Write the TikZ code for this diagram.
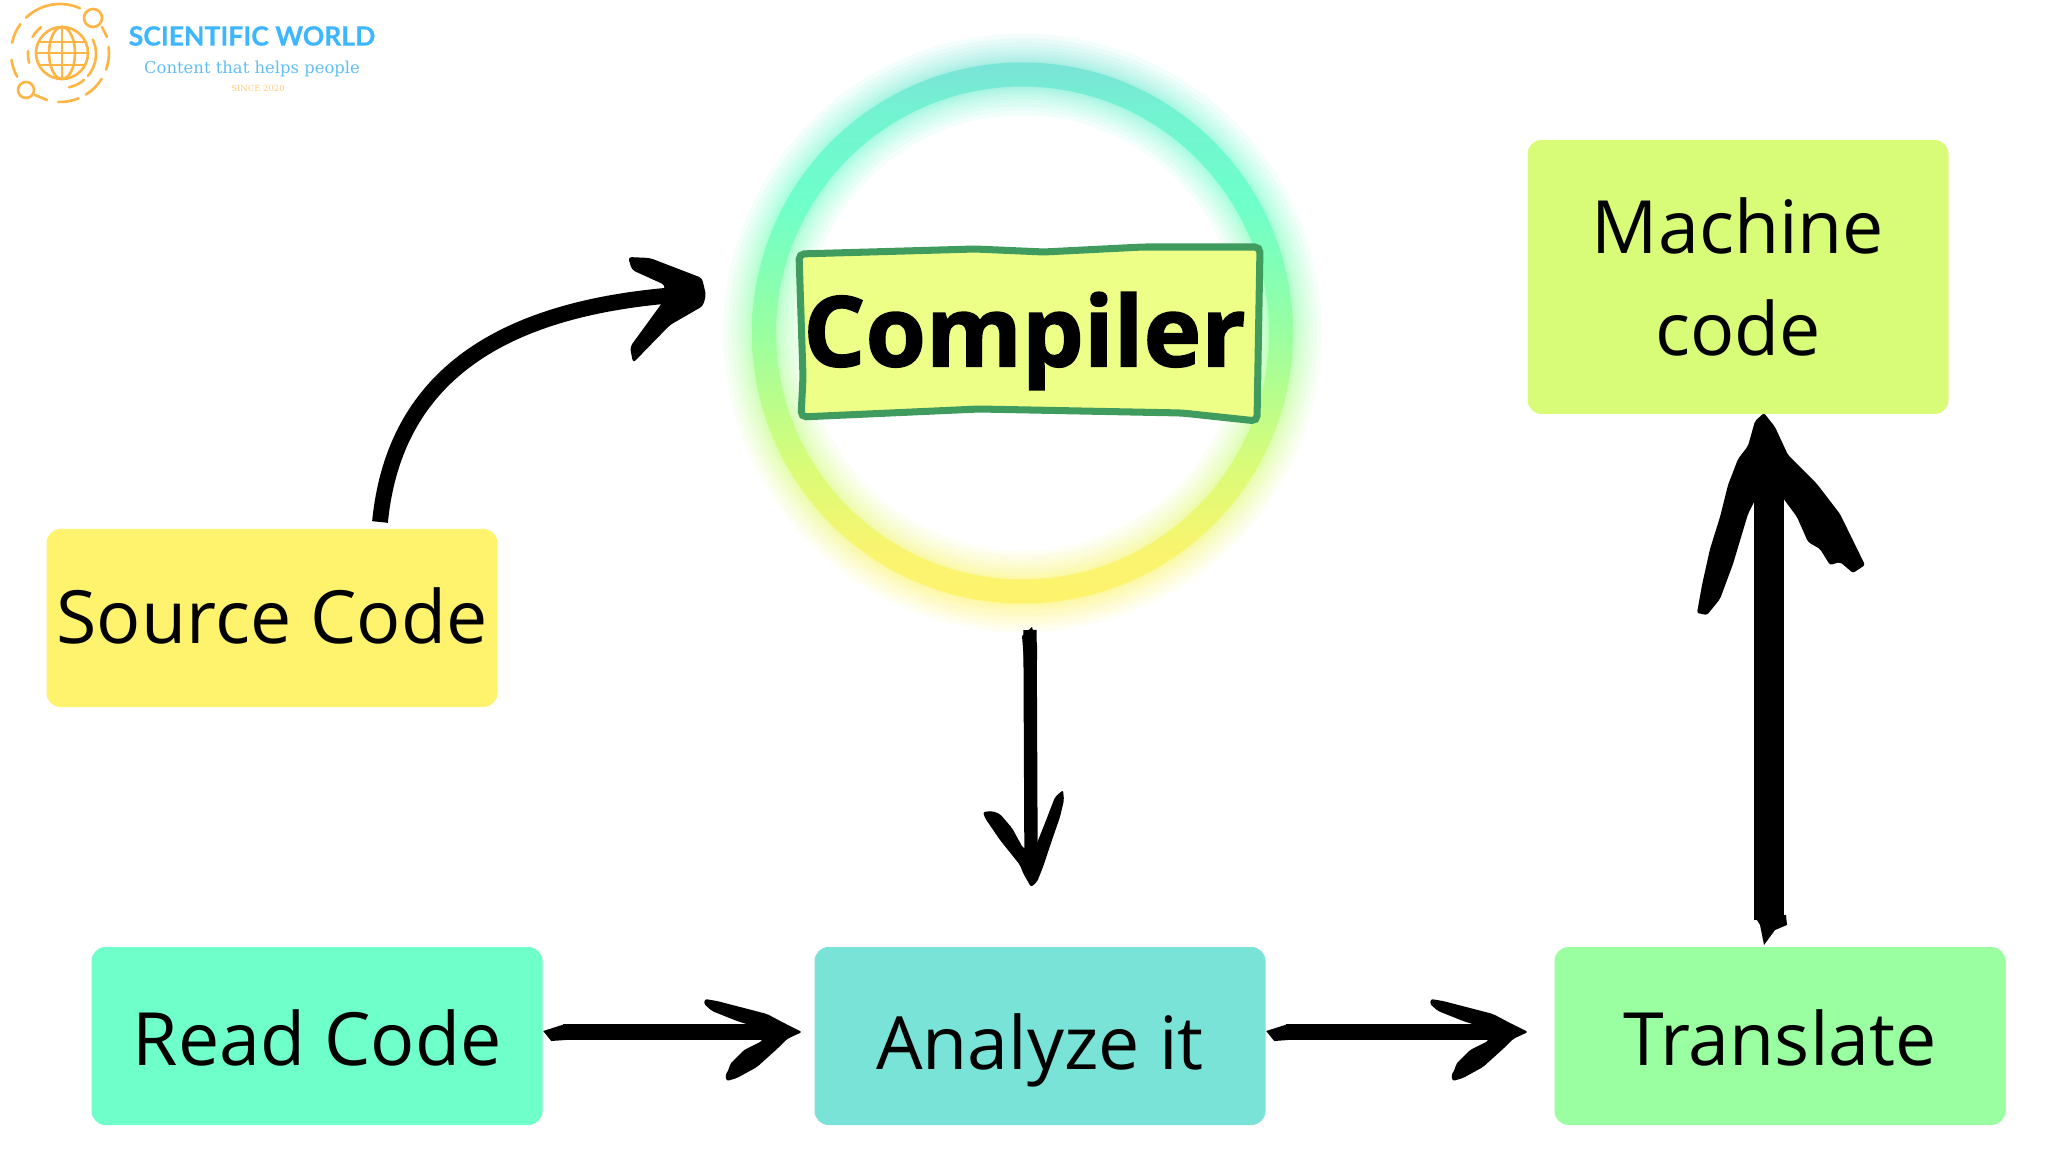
\documentclass[tikz,border=0pt]{standalone}
\usepackage{fontspec}
\usepackage{xcolor}
\usepackage{tikz}
\setmainfont{Open Sans}
\newfontfamily\logofont[BoldFeatures={FakeBold=0.4}]{Lato}
\newfontfamily\slabfont{DejaVu Serif}
\newfontfamily\heavyfont[BoldFeatures={FakeBold=1.5}]{Open Sans}

\definecolor{sourceyellow}{HTML}{FFF36D}
\definecolor{readmint}{HTML}{6EFFCB}
\definecolor{analyzeteal}{HTML}{7AE3D8}
\definecolor{translategreen}{HTML}{99FFA0}
\definecolor{machinelime}{HTML}{D8FC78}
\definecolor{compilerfill}{HTML}{EEFF88}
\definecolor{compileredge}{HTML}{3F9C5E}
\definecolor{logoblue}{HTML}{3DB6FF}
\definecolor{logosky}{HTML}{62BEF5}
\definecolor{logoorange}{HTML}{FFB545}

\pgfdeclareverticalshading{ringpaint}{100bp}{
  color(0bp)=(sourceyellow); color(25bp)=(sourceyellow); color(30bp)=(sourceyellow!85!machinelime);
  color(38bp)=(machinelime); color(50bp)=(translategreen); color(62bp)=(readmint);
  color(70bp)=(readmint!60!analyzeteal); color(75bp)=(analyzeteal); color(100bp)=(analyzeteal)}

\tikzset{
  codebox/.style={rounded corners=4pt,minimum width=451*0.01cm,minimum height=178*0.01cm,
    inner sep=0pt,font=\fontsize{20.9}{29}\selectfont},
  boxline/.style={text height=#1,text depth=2pt},
  brush/.style={line width=4.5pt,black},
  logoline/.style={logoorange,line width=0.75pt,line cap=round},
  brushtip/.pic={
    \fill[black,rounded corners=0.6pt] (0,0) -- (-18,-9) -- (-35,-18) -- (-58,-24) -- (-85,-31) -- (-97,-33) -- (-98,-28) -- (-90,-21)
      -- (-65,-11) -- (-40,-3) -- (-40,9) -- (-58,18) -- (-72,32) -- (-73,37) -- (-77,44) -- (-75,49)
      -- (-65,46) -- (-45,35) -- (-25,17) -- (-15,7) -- cycle;
  },
  brushtail/.pic={
    \fill[black] (0,-1) -- (22,-8) -- (22,8) -- (8,9) -- cycle;
  }
}

\begin{document}
\begin{tikzpicture}[x=0.01cm,y=-0.01cm]
        \useasboundingbox (0,0) rectangle (2048,1152);
        % Logo
        \draw[logoline] (62,53) circle (26);
        \draw[logoline] (62,53) ellipse (13 and 26);
        \draw[logoline] (62,27) -- (62,79);
        \draw[logoline] (36,53) -- (88,53);
        \draw[logoline] (40,42) -- (84,42);
        \draw[logoline] (40,65) -- (84,65);
        \foreach \a/\b in {226/294,-7/20,32/58,68/92,151/172,192/216} {
          \draw[logoline] (60,53) ++(\a:49) arc (\a:\b:49);
        }
        \foreach \a/\b in {210/232,165/185,-25/40,50/78} {
          \draw[logoline] (62,54) ++(\a:34) arc (\a:\b:34);
        }
        \draw[logoline] (93,18) circle (9);
        \draw[logoline] (102,27) -- (107,37);
        \draw[logoline] (26,90) circle (8);
        \draw[logoline] (35,95) -- (47,100);
        \node[text=logoblue,font=\logofont\bfseries\fontsize{7.55}{10}\selectfont] (logoname) at (252,36) {SCIENTIFIC WORLD};
        \node[text=logosky,font=\slabfont\fontsize{4.67}{6}\selectfont] (logoslogan) at (252,69) {Content that helps people};
        \node[text=logoorange!70,font=\slabfont\fontsize{2.4}{3}\selectfont] (logosince) at (258,88) {SINCE 2020};
        % Ring with glow
        \foreach \k in {12,11,...,1} {
          \shade[shading=ringpaint,even odd rule,opacity=0.09] (1022.5,333) circle ({270.5+\k*\k/5}) circle ({246.5-\k*\k/5});
        }
        \shade[shading=ringpaint,even odd rule] (1022.5,333) circle (270.5) circle (246.5);
        % Compiler box
        \draw[fill=compilerfill,draw=compileredge,line width=2pt,rounded corners=1.5pt]
          (799,254) -- (975,249) -- (1044,252) -- (1143,247) -- (1260,247) -- (1257,421)
          -- (1182,413) -- (979,409) -- (801,417) -- (803,377) -- cycle;
        \node[font=\heavyfont\bfseries\fontsize{27.8}{30}\selectfont] (compiler) at (1024.5,341) {Compiler};
        % Boxes
        \node[codebox,boxline=16.5pt,fill=sourceyellow] (source) at (272,618) {Source Code};
        \node[codebox,boxline=18.5pt,fill=readmint] (readcode) at (317,1036) {Read Code};
        \node[codebox,boxline=20.8pt,fill=analyzeteal] (analyze) at (1040,1036) {Analyze it};
        \node[codebox,boxline=18.5pt,fill=translategreen] (translate) at (1780,1036) {Translate};
        \node[codebox,fill=machinelime,minimum width=421*0.01cm,minimum height=274*0.01cm,align=center] (machine) at (1738,277) {Machine\\code};
        % Free ends of the connectors
        \coordinate (tipread) at (802,1032);
        \coordinate (tipanalyze) at (1528,1032);
        \coordinate (tipcompiler) at (1031,850);
        \coordinate (startcompiler) at (1030,630);
        \coordinate (tipsource) at (690,294);
        \coordinate (startsource) at (380,522);
        \coordinate (startup) at (1769,920);
        \coordinate (tipup) at (1769,470);
        % Connectors
        \draw[brush] (startsource) .. controls (395,370) and (510,305) .. (tipsource);
        \fill[black,rounded corners=1pt] (628,257) -- (650,258) -- (702,278) -- (706,295) -- (703,306) -- (670,325) -- (633,363) -- (630,347) -- (662,303) -- (665,285) -- (632,270) -- cycle;
        \draw[brush,shorten <=5.7pt,shorten >=7pt] (readcode.east |- tipread) -- (tipread);
        \pic at (readcode.east |- tipread) {brushtail};
        \pic at (tipread) {brushtip};
        \draw[brush,shorten <=5.7pt,shorten >=7pt] (analyze.east |- tipanalyze) -- (tipanalyze);
        \pic at (analyze.east |- tipanalyze) {brushtail};
        \pic at (tipanalyze) {brushtip};
        \draw[brush,line width=3.8pt] (startcompiler) -- (tipcompiler);
        \fill[black] (1032,627) -- (1022,636) -- (1024,660) -- (1037,660) -- (1037,645) -- cycle;
        \fill[black,rounded corners=0.6pt] (1031,887) -- (1023,873) -- (1020,865) -- (1000,840) -- (985,818) -- (983,812) -- (992,811) -- (1000,814)
          -- (1012,828) -- (1023,848) -- (1035,848) -- (1045,823) -- (1055,797) -- (1063,790) -- (1064,800) -- (1060,817)
          -- (1052,840) -- (1043,867) -- (1037,882) -- cycle;
        \draw[brush,line width=8.5pt] (startup) -- (tipup);
        \fill[black] (1754,915) -- (1760,925) -- (1764,945) -- (1775,930) -- (1787,925) -- (1786,915) -- cycle;
        \fill[black,rounded corners=0.6pt] (1764,413) -- (1755,421) -- (1748,446) -- (1738,459) -- (1728,485) -- (1720,517) -- (1710,549) -- (1702,585)
          -- (1697,613) -- (1707,615) -- (1720,599) -- (1733,564) -- (1748,514) -- (1758,494) -- (1783,498) -- (1797,517)
          -- (1808,542) -- (1820,549) -- (1830,565) -- (1840,562) -- (1853,573) -- (1865,565) -- (1840,514) -- (1817,484)
          -- (1788,455) -- (1775,427) -- cycle;
    \end{tikzpicture}
\end{document}
